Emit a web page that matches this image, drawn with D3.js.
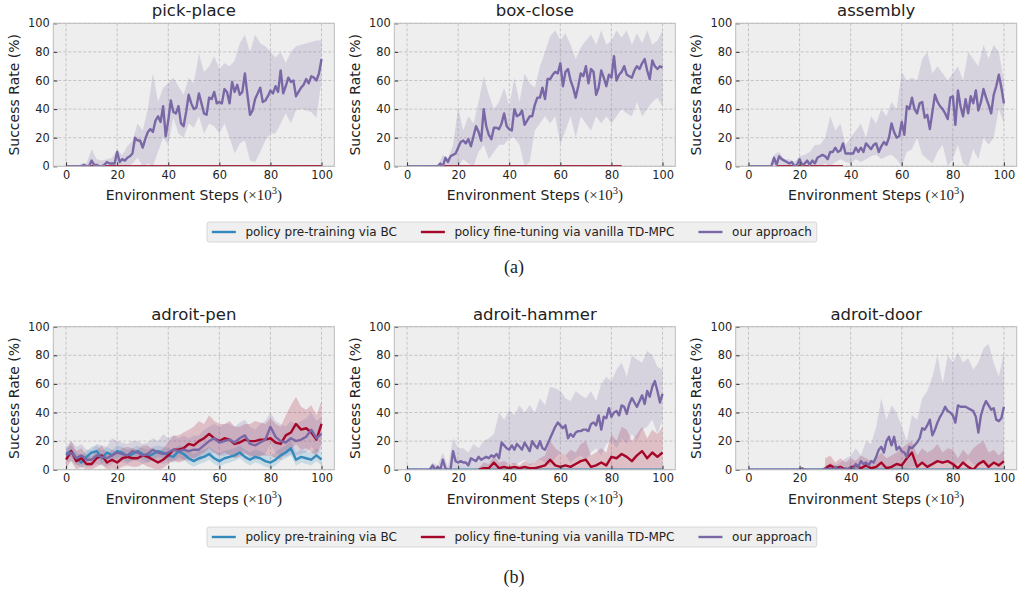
<!DOCTYPE html>
<html>
<head>
<meta charset="utf-8">
<script src="https://cdn.jsdelivr.net/npm/d3@7"></script>
<style>
  body { margin: 0; background: #fff; }
  svg text { font-family: "DejaVu Sans", sans-serif; fill: #222; }
</style>
</head>
<body>
<div id="chart"></div>
<script>

// step grids (x 10^3)
const steps1k = d3.range(0, 101, 1);
const steps2k = d3.range(0, 101, 2);
const xTicks = [0, 20, 40, 60, 80, 100];
const yTicks = [0, 20, 40, 60, 80, 100];

// ---- pick-place ----
const pickPlaceOurs = [0,0,0,0,0,0,0,1,0,0, 4,1,1,0,0,1,3,2,2,2, 10,3,5,4,6,7,9,20,18,18,
  13,19,24,26,24,32,35,31,42,21, 32,46,38,37,42,30,28,38,50,44, 40,41,51,44,37,36,48,47,52,44,
  45,44,54,52,44,59,52,57,50,52, 65,50,36,39,47,51,55,45,46,49, 53,51,56,52,67,51,56,62,59,60,
  49,52,55,57,61,58,63,62,60,65, 75];
const pickPlaceOursHi = [0,0,0,2,2, 12,5,4,5,6, 12,8,14,18,30, 25,40,65,45,55, 58,62,56,50,62,
  58,79,66,70,77, 68,72,70,74,86, 92,80,92,86,84, 80,76,80,72,80, 84,85,86,87,88, 88];
const pickPlaceOursLo = [0,0,0,0,0, 0,0,0,0,0, 0,0,0,2,6, 0,2,0,10,20, 15,34,23,20,30,
  27,35,23,30,28, 23,30,20,9,16, 18,4,3,10,18, 23,23,30,37,30, 39,40,39,38,34, 60];
const pickPlaceTdmpcSteps = [0, 100];
const pickPlaceTdmpc = [0, 0];

// ---- box-close ----
const boxCloseOurs = [0,0,0,0,0,0,0,0,0,0, 0,0,0,2,0,6,3,7,8,9, 13,17,18,16,19,14,21,28,24,18,
  40,28,22,19,27,27,26,30,37,28, 26,25,40,35,36,39,29,32,35,35, 43,48,48,55,47,61,61,64,66,65,
  72,56,66,68,60,55,48,56,65,63, 70,58,68,66,50,55,67,62,56,64, 62,77,60,64,66,70,64,63,62,67,
  70,68,72,75,67,61,74,70,68,70, 69];
const boxCloseOursHi = [0,0,0,0,0, 0,0,8,5,15, 41,25,35,30,45, 63,50,40,45,55, 42,62,45,65,58,
  55,70,80,91,95, 88,93,85,75,83, 88,92,85,95,85, 88,95,90,95,85, 93,86,95,85,88, 95];
const boxCloseOursLo = [0,0,0,0,0, 0,0,0,0,0, 0,5,2,0,10, 15,5,10,15,15, 20,20,15,0,3,
  25,30,35,30,35, 15,25,35,20,35, 30,25,35,30,35, 30,35,40,37,35, 45,35,40,45,48, 42];
const boxCloseTdmpcSteps = [13, 84];
const boxCloseTdmpc = [0, 0];

// ---- assembly ----
const assemblyOurs = [0,0,0,0,0,0,0,0,0,0, 6,1,7,5,4,3,2,3,0,1, 5,1,2,4,1,4,2,6,7,8,
  7,5,10,10,13,10,11,16,9,9, 9,9,13,10,13,10,16,14,12,15, 16,10,14,17,15,20,30,24,20,21,
  31,22,42,40,48,40,37,44,45,34, 36,26,38,50,45,42,40,37,33,48, 49,29,53,42,35,47,37,49,44,53,
  39,45,54,48,43,37,50,56,64,55, 44];
const assemblyOursHi = [0,0,0,0,0, 8,10,5,5,3, 7,8,10,15,15, 20,35,25,30,15, 20,25,30,20,35,
  30,40,35,45,40, 66,60,62,60,75, 80,65,70,65,60, 65,70,60,80,75, 70,85,75,85,80, 60];
const assemblyOursLo = [0,0,0,0,0, 0,0,0,0,0, 0,0,0,0,0, 2,0,3,5,3, 2,5,3,5,7,
  8,5,7,8,5, 0,10,12,20,8, 5,2,10,15,0, 5,15,2,0,12, 5,20,15,20,40, 30];
const assemblyTdmpcSteps = [11, 37];
const assemblyTdmpc = [0, 0];

// ---- adroit-pen ----
const penBc = [11,13,8,5,9, 12,13,8,12,10, 13,12,9,11,13, 11,9,11,13,12, 10,9,13,11,8,
  6,8,9,11,8, 6,8,9,10,12, 9,7,9,8,6, 5,7,10,12,15, 7,9,8,7,10, 7];
const penBcHi = [15,17,12,10,13, 16,17,13,16,14, 17,16,14,15,17, 15,14,16,17,16, 15,14,17,16,13,
  11,13,14,16,13, 11,13,14,15,17, 14,12,14,13,11, 10,12,15,17,20, 12,14,13,12,15, 12];
const penBcLo = [7,9,4,1,5, 8,9,4,8,6, 9,8,5,7,9, 7,5,7,9,8, 6,5,9,7,4,
  2,4,5,7,4, 2,4,5,6,8, 5,3,5,4,2, 1,3,6,8,10, 3,5,4,3,6, 3];
const penTdmpc = [7,13,6,8,4, 4,8,10,5,7, 5,8,9,8,8, 10,9,7,5,7, 10,14,14,15,18,
  17,20,22,25,22, 20,22,21,18,19, 21,20,20,21,21, 22,19,18,24,26, 32,28,29,26,21, 32];
const penTdmpcHi = [13,20,13,15,10, 9,14,17,11,14, 12,15,16,15,14, 17,17,14,12,15, 19,24,24,26,28,
  30,34,32,38,34, 32,32,34,30,30, 32,32,34,33,32, 36,32,30,38,45, 51,44,42,45,38, 48];
const penTdmpcLo = [1,6,0,2,0, 0,2,4,0,1, 0,2,3,2,2, 4,2,1,0,1, 4,6,5,6,9,
  8,10,12,15,12, 10,12,10,8,9, 11,10,9,10,10, 10,8,7,12,14, 18,14,15,12,10, 18];
const penOurs = [10,12,8,10,7, 7,10,9,8,10, 12,11,10,13,12, 10,11,14,12,11, 12,14,13,14,13,
  14,14,17,20,22, 19,20,21,19,22, 24,18,17,19,21, 30,23,20,19,22, 20,21,23,28,22, 25];
const penOursHi = [16,20,16,18,14, 14,18,17,16,22, 20,19,18,20,20, 18,19,22,20,25, 22,24,22,24,22,
  24,24,28,30,32, 30,32,32,30,33, 35,30,28,32,34, 40,34,32,30,34, 32,34,36,40,34, 37];
const penOursLo = [5,6,3,4,2, 2,4,3,2,4, 6,5,4,6,6, 4,5,7,5,4, 5,7,6,7,6,
  6,6,8,10,12, 9,10,11,9,12, 13,8,7,9,11, 18,12,10,9,11, 10,11,12,16,12, 14];

// ---- adroit-hammer ----
const hammerBcSteps = [0, 100];
const hammerBc = [0, 0];
const hammerTdmpcSteps = d3.range(28, 101, 2);
const hammerTdmpc = [0,1,1,5,1,2,1,2,1,2, 1,1,2,3,7,3,2,3,2,4, 6,7,2,3,5,3,9,8,11,9, 6,10,13,8,12,9,12];
const hammerTdmpcHi = [1,5,4,10,5,6,4,5,3,6, 4,5,8,10,20,15,12,10,14,12, 18,20,10,12,15,12,25,20,30,28, 20,25,30,22,28,25,30];
const hammerTdmpcLo = [0,0,0,0,0,0,0,0,0,0, 0,0,0,0,0,0,0,0,0,0, 0,0,0,0,0,0,0,0,0,0, 0,0,0,0,0,0,0];
const hammerOurs = [0,0,0,0,0,0,0,0,0,0, 3,0,2,0,7,1,0,0,13,6, 5,6,5,5,3,8,7,6,9,7,
  8,9,8,10,9,11,8,19,17,15, 14,17,14,18,16,14,19,16,13,20, 17,15,20,15,14,18,22,26,30,33,
  31,29,31,22,25,23,26,27,27,28, 28,27,32,33,31,38,28,37,36,43, 37,40,41,38,45,44,39,46,50,47,
  44,48,52,46,55,51,58,62,55,47, 53];
const hammerOursHi = [0,0,0,0,0, 5,3,12,2,22, 15,15,12,18,15, 20,22,25,40,35, 42,38,45,40,45,
  40,50,45,58,57, 55,50,48,55,52, 50,55,48,60,65, 62,70,75,65,80, 77,75,83,80,72, 70];
const hammerOursLo = [0,0,0,0,0, 0,0,0,0,0, 0,0,0,0,0, 0,0,0,0,2, 5,3,5,7,3,
  5,7,5,3,8, 12,10,5,8,10, 7,12,15,10,18, 20,15,22,18,25, 20,28,30,35,25, 35];

// ---- adroit-door ----
const doorBcSteps = [0, 100];
const doorBc = [0, 0];
const doorTdmpcSteps = d3.range(30, 101, 2);
const doorTdmpc = [1,3,1,2,0,1,3,1,3,1, 2,5,1,2,4,3,8,12,2,5, 2,4,6,5,6,4,1,5,2,0, 4,6,2,5,3,6];
const doorTdmpcHi = [8,10,5,8,5,8,6,10,8,6, 8,12,8,10,12,15,18,20,10,15, 12,14,18,12,15,14,8,14,10,15, 18,20,12,14,10,14];
const doorTdmpcLo = [0,0,0,0,0,0,0,0,0,0, 0,0,0,0,0,0,0,0,0,0, 0,0,0,0,0,0,0,0,0,0, 0,0,0,0,0,0];
const doorOurs = [0,0,0,0,0,0,0,0,0,0, 0,0,0,0,0,0,0,0,0,0, 0,1,0,0,0,0,0,0,0,0,
  1,0,1,0,2,0,1,0,1,0, 2,0,4,2,6,4,5,3,6,5, 9,14,16,12,20,23,17,23,14,16,
  13,12,9,16,15,17,19,22,29,28, 31,35,24,28,33,37,40,44,41,40, 38,33,45,44,44,44,43,42,41,37,
  26,38,44,48,45,42,43,35,34,36, 44];
const doorOursHi = [0,0,0,0,0, 0,0,0,0,0, 0,1,0,0,0, 2,5,3,5,8, 10,15,10,20,18,
  30,50,35,45,40, 30,20,38,35,50, 55,65,80,60,80, 75,82,75,78,70, 75,85,88,75,65, 82];
const doorOursLo = [0,0,0,0,0, 0,0,0,0,0, 0,0,0,0,0, 0,0,0,0,0, 0,0,0,0,0,
  0,0,0,0,0, 0,1,2,3,5, 3,2,5,4,6, 2,5,3,8,4, 2,5,3,6,2, 5];

const colors = { bc: "#348ABD", tdmpc: "#A60628", ours: "#7A68A6" };
const legendKeys = ["bc", "tdmpc", "ours"];
const legendLabels = ["policy pre-training via BC", "policy fine-tuning via vanilla TD-MPC", "our approach"];

const panels = [
  { title: "pick-place", row: 0, col: 0, series: [
    { key: "tdmpc", x: pickPlaceTdmpcSteps, y: pickPlaceTdmpc },
    { key: "ours", x: steps1k, y: pickPlaceOurs, bx: steps2k, lo: pickPlaceOursLo, hi: pickPlaceOursHi } ] },
  { title: "box-close", row: 0, col: 1, series: [
    { key: "tdmpc", x: boxCloseTdmpcSteps, y: boxCloseTdmpc },
    { key: "ours", x: steps1k, y: boxCloseOurs, bx: steps2k, lo: boxCloseOursLo, hi: boxCloseOursHi } ] },
  { title: "assembly", row: 0, col: 2, series: [
    { key: "tdmpc", x: assemblyTdmpcSteps, y: assemblyTdmpc },
    { key: "ours", x: steps1k, y: assemblyOurs, bx: steps2k, lo: assemblyOursLo, hi: assemblyOursHi } ] },
  { title: "adroit-pen", row: 1, col: 0, series: [
    { key: "bc", x: steps2k, y: penBc, bx: steps2k, lo: penBcLo, hi: penBcHi },
    { key: "tdmpc", x: steps2k, y: penTdmpc, bx: steps2k, lo: penTdmpcLo, hi: penTdmpcHi },
    { key: "ours", x: steps2k, y: penOurs, bx: steps2k, lo: penOursLo, hi: penOursHi } ] },
  { title: "adroit-hammer", row: 1, col: 1, series: [
    { key: "bc", x: hammerBcSteps, y: hammerBc },
    { key: "tdmpc", x: hammerTdmpcSteps, y: hammerTdmpc, bx: hammerTdmpcSteps, lo: hammerTdmpcLo, hi: hammerTdmpcHi },
    { key: "ours", x: steps1k, y: hammerOurs, bx: steps2k, lo: hammerOursLo, hi: hammerOursHi } ] },
  { title: "adroit-door", row: 1, col: 2, series: [
    { key: "bc", x: doorBcSteps, y: doorBc },
    { key: "tdmpc", x: doorTdmpcSteps, y: doorTdmpc, bx: doorTdmpcSteps, lo: doorTdmpcLo, hi: doorTdmpcHi },
    { key: "ours", x: steps1k, y: doorOurs, bx: steps2k, lo: doorOursLo, hi: doorOursHi } ] }
];

const width = 1019, height = 594;
const plotLefts = [53.3, 394.3, 735.7];
const plotTops = [23.3, 326.7];
const plotW = 281, plotH = 143;

const svg = d3.select("#chart")
  .append("svg")
  .attr("width", width)
  .attr("height", height);

panels.forEach(function(p, i) {
  const left = plotLefts[p.col];
  const top = plotTops[p.row];

  const xScale = d3.scaleLinear().domain([-5, 105]).range([left, left + plotW]);
  const yScale = d3.scaleLinear().domain([0, 100]).range([top + plotH, top]);

  const g = svg.append("g");

  g.append("rect")
    .attr("x", left).attr("y", top)
    .attr("width", plotW).attr("height", plotH)
    .attr("fill", "#eeeeee");

  // dashed grid
  g.selectAll(".gx").data(xTicks).enter().append("line")
    .attr("x1", d => xScale(d)).attr("x2", d => xScale(d))
    .attr("y1", top).attr("y2", top + plotH)
    .attr("stroke", "#b2b2b2").attr("stroke-width", 0.7).attr("stroke-dasharray", "3,2");
  g.selectAll(".gy").data(yTicks).enter().append("line")
    .attr("x1", left).attr("x2", left + plotW)
    .attr("y1", d => yScale(d)).attr("y2", d => yScale(d))
    .attr("stroke", "#b2b2b2").attr("stroke-width", 0.7).attr("stroke-dasharray", "3,2");

  svg.append("clipPath").attr("id", "clip" + i)
    .append("rect")
    .attr("x", left).attr("y", top)
    .attr("width", plotW).attr("height", plotH);

  const plot = g.append("g").attr("clip-path", "url(#clip" + i + ")");

  // shaded bands first
  p.series.forEach(function(s) {
    if (!s.hi) return;
    const area = d3.area()
      .x((d, j) => xScale(s.bx[j]))
      .y0((d, j) => yScale(s.lo[j]))
      .y1(d => yScale(d));
    plot.append("path")
      .datum(s.hi)
      .attr("d", area)
      .attr("fill", colors[s.key])
      .attr("fill-opacity", 0.2);
  });

  // mean lines
  p.series.forEach(function(s) {
    const line = d3.line()
      .x((d, j) => xScale(s.x[j]))
      .y(d => yScale(d));
    plot.append("path")
      .datum(s.y)
      .attr("d", line)
      .attr("fill", "none")
      .attr("stroke", colors[s.key])
      .attr("stroke-width", 2.4)
      .attr("stroke-linejoin", "round");
  });

  // axes, ticks pointing inward
  const xAxis = g.append("g")
    .attr("transform", "translate(0," + (top + plotH) + ")")
    .call(d3.axisBottom(xScale).tickValues(xTicks).tickSize(-4).tickPadding(4.5));
  const yAxis = g.append("g")
    .attr("transform", "translate(" + left + ",0)")
    .call(d3.axisLeft(yScale).tickValues(yTicks).tickSize(-4).tickPadding(3.5));
  [xAxis, yAxis].forEach(function(a) {
    a.select(".domain").remove();
    a.attr("font-family", null).attr("font-size", null);
    a.selectAll(".tick line").attr("stroke", "#333");
    a.selectAll(".tick text").style("font-size", "11.4px").attr("fill", "#1a1a1a");
  });

  g.append("rect")
    .attr("x", left).attr("y", top)
    .attr("width", plotW).attr("height", plotH)
    .attr("fill", "none")
    .attr("stroke", "#bcbcbc")
    .attr("stroke-width", 1);

  const cx = left + plotW / 2;

  g.append("text")
    .attr("x", cx).attr("y", top - 7)
    .attr("text-anchor", "middle")
    .style("font-size", "16.5px")
    .text(p.title);

  const xLabel = g.append("text")
    .attr("x", cx).attr("y", top + plotH + 34)
    .attr("text-anchor", "middle")
    .style("font-size", "14px");
  xLabel.append("tspan").text("Environment Steps ");
  xLabel.append("tspan").style("font-family", "'Liberation Serif', 'DejaVu Serif', serif").style("font-size", "15px").text("(×10");
  xLabel.append("tspan").style("font-family", "'Liberation Serif', serif").style("font-size", "10.5px")
    .attr("dy", -6).text("3");
  xLabel.append("tspan").style("font-family", "'Liberation Serif', serif").style("font-size", "15px").attr("dy", 6).text(")");

  g.append("text")
    .attr("transform", "translate(" + (left - 34.5) + "," + (top + plotH / 2) + ") rotate(-90)")
    .attr("text-anchor", "middle")
    .style("font-size", "14px")
    .text("Success Rate (%)");
});

// legends and captions
const legendRows = [{ cy: 232, caption: "(a)", capY: 273 }, { cy: 537, caption: "(b)", capY: 583 }];
const legendFont = 12;
legendRows.forEach(function(r) {
  const lg = svg.append("g");
  const box = lg.append("rect")
    .attr("x", 207).attr("y", r.cy - 10)
    .attr("height", 20)
    .attr("rx", 2)
    .attr("fill", "#efefef")
    .attr("stroke", "#d0d0d0")
    .attr("stroke-width", 0.8);
  let cursor = 207 + 0.4 * legendFont;
  legendKeys.forEach(function(k, j) {
    lg.append("line")
      .attr("x1", cursor).attr("x2", cursor + 2 * legendFont)
      .attr("y1", r.cy).attr("y2", r.cy)
      .attr("stroke", colors[k]).attr("stroke-width", 2.4);
    cursor += 2.8 * legendFont;
    const t = lg.append("text")
      .attr("x", cursor).attr("y", r.cy + 4.3)
      .style("font-size", legendFont + "px")
      .text(legendLabels[j]);
    cursor += t.node().getComputedTextLength();
    if (j < legendKeys.length - 1) cursor += 2 * legendFont;
  });
  box.attr("width", cursor + 0.4 * legendFont - 207);

  svg.append("text")
    .attr("x", 514).attr("y", r.capY)
    .attr("text-anchor", "middle")
    .style("font-family", "'Liberation Serif', 'Times New Roman', serif")
    .style("font-size", "18px")
    .text(r.caption);
});

</script>
</body>
</html>
